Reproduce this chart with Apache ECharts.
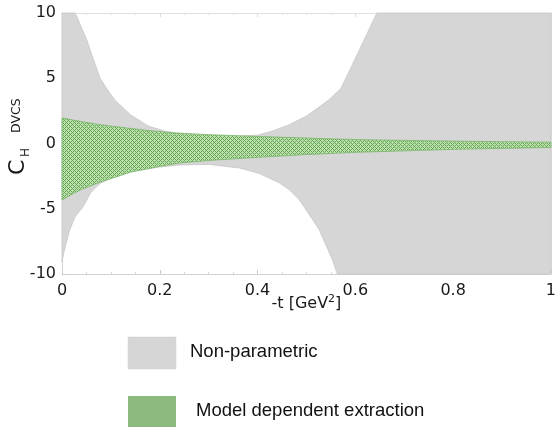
<!DOCTYPE html>
<html>
<head>
<meta charset="utf-8">
<script src="https://cdn.jsdelivr.net/npm/echarts@6/dist/echarts.min.js"></script>
<style>
  html, body { margin: 0; padding: 0; background: #ffffff; }
  #chart { width: 559px; height: 427px; }
</style>
</head>
<body>
<div id="chart"></div>
<script>
// Non-parametric band: upper and lower edges as [-t, C] pairs (shown range capped at ±10)
const npUpper = [
  [0, 10], [0.027, 10], [0.05, 8.0], [0.061, 6.8], [0.078, 5.0], [0.095, 4.0],
  [0.109, 3.3], [0.14, 2.2], [0.176, 1.35], [0.21, 0.95], [0.235, 0.8],
  [0.3, 0.62], [0.35, 0.55], [0.4, 0.64], [0.43, 0.95], [0.465, 1.44],
  [0.5, 2.1], [0.526, 2.8], [0.546, 3.36], [0.57, 4.2], [0.587, 5.5],
  [0.644, 10], [1, 10]
];
const npLower = [
  [0, -9.05], [0.004, -8.3], [0.015, -6.7], [0.027, -5.6], [0.044, -4.8],
  [0.058, -3.8], [0.078, -3.05], [0.1, -2.65], [0.14, -2.15], [0.2, -1.8],
  [0.24, -1.65], [0.3, -1.6], [0.363, -1.88], [0.404, -2.3], [0.444, -3.0],
  [0.465, -3.55], [0.485, -4.3], [0.505, -5.4], [0.526, -6.6], [0.553, -8.9],
  [0.563, -10], [1, -10]
];

// Model dependent extraction band
const mdUpper = [
  [0, 1.95], [0.04, 1.68], [0.078, 1.44], [0.13, 1.2], [0.18, 0.98],
  [0.234, 0.8], [0.3, 0.68], [0.4, 0.54], [0.5, 0.42], [0.6, 0.3],
  [0.8, 0.18], [1, 0.1]
];
const mdLower = [
  [0, -4.32], [0.02, -3.9], [0.038, -3.55], [0.078, -2.96], [0.14, -2.2],
  [0.2, -1.75], [0.24, -1.5], [0.3, -1.3], [0.4, -1.06], [0.5, -0.85],
  [0.6, -0.68], [0.8, -0.45], [1, -0.3]
];

const xTickLabels = ['0', '0.2', '0.4', '0.6', '0.8', '1'];
const yTickLabels = ['-10', '-5', '0', '5', '10'];
const legendNames = ['Non-parametric', 'Model dependent extraction'];

// Small cross-hatch tile used to fill the model band
function hatchTile() {
  const c = document.createElement('canvas');
  c.width = 4; c.height = 4;
  const g = c.getContext('2d');
  g.fillStyle = '#bddfb0';
  g.fillRect(0, 0, 4, 4);
  g.fillStyle = '#66a955';
  for (let x = 0; x < 4; x++) {
    for (let y = 0; y < 4; y++) {
      if ((x + y) % 4 === 0 || ((x - y) + 4) % 4 === 0) g.fillRect(x, y, 1, 1);
    }
  }
  return c;
}
const hatch = { image: hatchTile(), repeat: 'repeat' };

function bandSeries(name, upper, lower, style, z) {
  return {
    type: 'custom',
    name: name,
    z: z,
    data: [0],
    silent: true,
    renderItem: function (params, api) {
      const pts = upper.concat(lower.slice().reverse()).map(p => api.coord(p));
      return { type: 'polygon', shape: { points: pts }, style: style };
    }
  };
}

const chart = echarts.init(document.getElementById('chart'), null, { renderer: 'canvas' });

const tickFont = { fontFamily: 'DejaVu Sans', fontSize: 16, color: '#1a1a1a' };

chart.setOption({
  animation: false,
  backgroundColor: '#ffffff',
  grid: { left: 62, right: 6, top: 13, bottom: 153, containLabel: false },
  xAxis: [
    {
      type: 'value', min: 0, max: 1, interval: 0.2, position: 'bottom',
      axisLine: { show: true, onZero: false, lineStyle: { color: '#d2d2d2', width: 1 } },
      axisTick: { show: true, inside: true, length: 4, lineStyle: { color: '#cccccc' } },
      minorTick: { show: true, splitNumber: 4, length: 2, lineStyle: { color: '#d8d8d8' } },
      splitLine: { show: false },
      axisLabel: Object.assign({ margin: 9, formatter: v => xTickLabels[Math.round(v / 0.2)] }, tickFont),
      name: '-t [GeV{sup|2}]',
      nameLocation: 'middle', nameGap: 20, nameMoveOverlap: false,
      nameTextStyle: {
        fontFamily: 'DejaVu Sans', fontSize: 16, color: '#1a1a1a',
        rich: { sup: { fontFamily: 'DejaVu Sans', fontSize: 11, color: '#1a1a1a', verticalAlign: 'top', padding: [0, 0, 8, 0] } }
      }
    },
    {
      type: 'value', min: 0, max: 1, interval: 0.2, position: 'top',
      axisLine: { show: true, onZero: false, lineStyle: { color: '#e0e0e0', width: 1 } },
      axisTick: { show: true, inside: true, length: 4, lineStyle: { color: '#dddddd' } },
      minorTick: { show: true, splitNumber: 4, length: 2, lineStyle: { color: '#e0e0e0' } },
      splitLine: { show: false },
      axisLabel: { show: false }
    }
  ],
  yAxis: [
    {
      type: 'value', min: -10, max: 10, interval: 5, position: 'left',
      axisLine: { show: true, onZero: false, lineStyle: { color: '#d2d2d2', width: 1 } },
      axisTick: { show: true, inside: true, length: 4, lineStyle: { color: '#cccccc' } },
      minorTick: { show: true, splitNumber: 2, length: 2, lineStyle: { color: '#d8d8d8' } },
      splitLine: { show: false },
      axisLabel: Object.assign({ margin: 6, formatter: v => yTickLabels[Math.round((v + 10) / 5)] }, tickFont)
    },
    {
      type: 'value', min: -10, max: 10, interval: 5, position: 'right',
      axisLine: { show: true, onZero: false, lineStyle: { color: '#e0e0e0', width: 1 } },
      axisTick: { show: true, inside: true, length: 4, lineStyle: { color: '#dddddd' } },
      minorTick: { show: true, splitNumber: 2, length: 2, lineStyle: { color: '#e0e0e0' } },
      splitLine: { show: false },
      axisLabel: { show: false }
    }
  ],
  series: [
    bandSeries(legendNames[0], npUpper, npLower,
      { fill: '#d6d6d6', stroke: '#c6c6c6', lineWidth: 0.8 }, 1),
    bandSeries(legendNames[1], mdUpper, mdLower,
      { fill: hatch, stroke: '#7ab66a', lineWidth: 0.8 }, 2)
  ],
  graphic: [
    {
      type: 'group', x: 18, y: 175, rotation: Math.PI / 2,
      children: [
        { type: 'text', x: 0, y: 0, style: { text: 'C', font: '22px "DejaVu Sans"', fill: '#1a1a1a', textVerticalAlign: 'middle' } },
        { type: 'text', x: 18, y: 8, style: { text: 'H', font: '12px "DejaVu Sans"', fill: '#1a1a1a', textVerticalAlign: 'middle' } },
        { type: 'text', x: 42, y: -1, style: { text: 'DVCS', font: '12.5px "DejaVu Sans"', fill: '#1a1a1a', textVerticalAlign: 'middle' } }
      ]
    },
    { type: 'rect', shape: { x: 128, y: 337, width: 48, height: 32 }, style: { fill: '#d6d6d6', stroke: '#cccccc', lineWidth: 0.5 } },
    { type: 'text', x: 190, y: 352, style: { text: legendNames[0], font: '18.5px "Liberation Sans"', fill: '#111111', textVerticalAlign: 'middle' } },
    { type: 'rect', shape: { x: 128, y: 396, width: 48, height: 32 }, style: { fill: '#8cba7e' } },
    { type: 'text', x: 196, y: 411, style: { text: legendNames[1], font: '18.5px "Liberation Sans"', fill: '#111111', textVerticalAlign: 'middle' } }
  ]
});
</script>
</body>
</html>
